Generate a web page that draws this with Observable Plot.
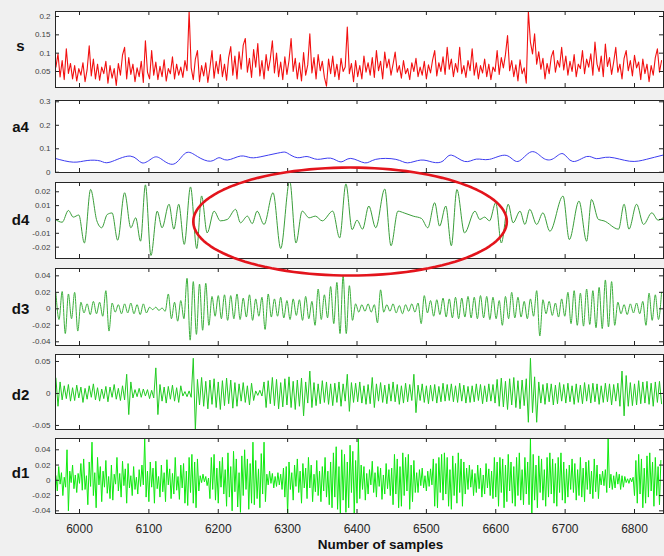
<!DOCTYPE html>
<html><head><meta charset="utf-8">
<script src="https://cdn.jsdelivr.net/npm/d3@7"></script>
<script src="https://cdn.jsdelivr.net/npm/@observablehq/plot@0.6"></script>
<style>
html,body{margin:0;padding:0;background:#f0f0f0;}
#fig{position:relative;width:664px;height:556px;background:#f0f0f0;overflow:hidden;}
</style></head><body><div id="fig"></div>
<script>
// ---------- data (values in thousandths) ----------
const xTicks = [6000,6100,6200,6300,6400,6500,6600,6700,6800];
const xTickLabels = ["6000","6100","6200","6300","6400","6500","6600","6700","6800"];
const xLabel = "Number of samples";

const sTicks = [0.05,0.1,0.15,0.2];           const sTickLabels = ["0.05","0.1","0.15","0.2"];
const a4Ticks = [0,0.1,0.2,0.3];              const a4TickLabels = ["0","0.1","0.2","0.3"];
const d4Ticks = [-0.02,-0.01,0,0.01,0.02];    const d4TickLabels = ["-0.02","-0.01","0","0.01","0.02"];
const d3Ticks = [-0.04,-0.02,0,0.02,0.04];    const d3TickLabels = ["-0.04","-0.02","0","0.02","0.04"];
const d2Ticks = [-0.05,0,0.05];               const d2TickLabels = ["-0.05","0","0.05"];
const d1Ticks = [-0.04,-0.02,0,0.02,0.04];    const d1TickLabels = ["-0.04","-0.02","0","0.02","0.04"];

// s : one value every 3 samples from 5966
const sStart = 5966, sStep = 3;
const sVals = [
62,98,35,80,28,112,45,72,30,66,24,58,40,74,22,55,120,38,84,30,
70,26,62,44,78,18,66,32,58,12,72,40,95,116,30,88,42,70,22,60,
36,78,20,134,48,30,107,40,76,28,64,36,82,24,58,44,90,30,70,40,
62,34,80,52,214,60,28,84,107,22,66,38,74,20,60,107,32,78,44,96,
36,70,26,88,118,40,92,30,104,56,122,140,48,86,34,110,62,126,38,80,
30,96,52,84,134,46,100,36,76,28,90,42,80,140,50,86,30,74,24,102,
40,68,153,46,88,30,96,52,78,34,10,84,44,92,36,70,28,86,50,62,
171,44,72,22,80,36,66,30,92,48,74,40,88,34,107,52,78,30,103,60,
84,40,70,103,48,66,32,80,44,58,28,74,50,86,36,62,40,78,30,68,
46,82,107,38,74,50,90,42,116,56,84,36,72,48,116,44,66,34,80,52,
112,40,74,30,66,46,84,36,70,28,62,50,107,42,88,60,96,148,52,80,
36,68,24,82,44,60,18,214,130,98,153,70,104,56,86,30,72,44,90,107,
48,80,62,116,54,92,40,78,50,96,36,70,58,107,44,84,62,98,40,130,
70,50,92,36,125,64,88,42,76,116,48,70,30,86,107,52,80,38,94,60,
76,28,84,44,70,22,66,40,88,112,48,80];

// a4 : smooth approximation, read at its turning points
const a4X = [5965,5991,6011,6030,6044,6073,6090,6105,6117,6136,6153,6170,6189,6201,6213,6232,6247,6266,6290,6300,6314,6328,6343,6362,6377,6391,6411,6427,6456,6473,6492,6509,6524,6536,6555,6572,6591,6615,6632,6651,6668,6683,6697,6711,6731,6745,6764,6793,6817,6841];
const a4Y = [59,43,50,48,43,69,40,60,58,35,82,67,47,62,52,69,62,69,84,81,62,67,55,60,44,59,40,55,55,40,52,43,48,73,46,56,55,72,46,87,61,58,79,46,67,58,64,47,55,73];

// d4 : read at peaks and troughs
const d4X = [5965,5975,5984,5991,5999,6007,6016,6025,6032,6040,6047,6055,6065,6074,6081,6088,6095,6103,6112,6119,6129,6136,6143,6151,6160,6169,6176,6184,6194,6203,6213,6225,6232,6242,6249,6256,6266,6279,6290,6303,6312,6321,6331,6340,6350,6365,6375,6384,6393,6400,6408,6417,6427,6440,6449,6459,6468,6481,6493,6502,6512,6519,6528,6536,6544,6555,6570,6577,6584,6591,6600,6608,6618,6625,6635,6642,6649,6659,6668,6678,6697,6706,6720,6731,6738,6748,6756,6777,6785,6792,6803,6813,6825,6834,6844];
const d4Y = [0,-2,6.5,1.7,3.2,-17,21.7,-1,-6,3.6,4.7,-15,19.3,-6,1.2,-15.7,25,-26,6,-6,11,-7,11,-18,23.5,-21,17,-9.7,6,-1,0,7.3,-2.4,2.4,-3,6,-3.6,19.3,-21,28,-17,6,1.2,2.4,-1,6,-13.3,25.7,-7.3,-0.5,-7,9.7,-6,22,-19,6,4.7,2.4,0.7,-6,12.1,-4.8,9.7,-19,21.6,-9.7,6,0,1.7,-1,12.1,-17,11,-2.4,6,-3.6,7.3,-3.6,4.8,-8.5,16.9,-14.5,13.3,-15.7,14.5,0,-1,-7,11,-7,11,-3.6,4.8,-0.5,2.4];

// d3 : alternating extremes every 4.5 samples from 5966
const d3Start = 5966, d3Step = 4.5;
const d3Vals = [
19,-13,21,-30,18,-12,20,-27,8,-5, 6,-7,9,-6,8,-9,22,-27,7,-4,
5,-6,6,-5,7,-6,5,-7,6,-5, 2,-1,2,-2,1,-3,18,-12,8,-15,
10,-12,37,-38,33,-31,30,-26,31,-20, 15,-9,16,-12,17,-14,16,-12,18,-13,
13,-10,17,-14,12,-9,14,-25,18,-10, 12,-9,14,-11,10,-13,12,-8,11,-14,
15,-12,9,-20,24,-13,17,-11,27,-18, 32,-30,40,-30,28,-14,6,-4,5,-3,
6,-4,5,-17,23,-4,5,-3,6,-5, 4,-6,5,-3,6,-4,7,-18,16,-5,
10,-9,11,-7,13,-10,12,-11,14,-12, 13,-10,15,-11,14,-12,16,-11,15,-13,
14,-12,10,-20,15,-12,20,-11,14,-10, 9,-12,12,-9,22,-33,11,-6,9,-8,
7,-10,12,-9,20,-18,22,-20,19,-21, 24,-19,22,-23,26,-24,35,-22,33,-20,
8,-6,5,-7,6,-5,7,-6,9,-20, 19,-14,17,-13,20];

// d2 : every 3 samples from 5966
const d2Start = 5966, d2Step = 3;
const d2Vals = [
24,-20,18,-10,12,-8,14,-12,9,-11,13,-7,10,-14,8,-9,12,-6,15,-10,
9,-12,7,-8,11,-13,10,-6,14,-9,8,-11,12,-10,30,-33,18,-7,6,-5,
8,-6,7,-4,6,-8,5,-7,40,-33,14,-12,10,-15,11,-9,13,-12,9,-14,
12,-4,3,-5,4,-6,55,-57,22,-18,25,-20,19,-24,21,-17,23,-22,18,-25,
20,-19,24,-16,21,-23,17,-20,15,-12,17,-14,12,-18,16,-11,4,-3,5,-4,
18,-22,20,-16,25,-19,22,-24,17,-21,23,-18,26,-22,19,-25,21,-20,24,-35,
18,-15,35,-22,17,-19,15,-16,20,-14,18,-17,15,-19,16,-14,18,-20,15,-12,
30,-28,17,-14,16,-13,18,-15,12,-17,14,-16,25,-22,15,-12,17,-14,13,-16,
15,-12,18,-13,14,-17,12,-15,16,-13,14,-11,30,-30,13,-11,15,-14,12,-16,
13,-12,14,-15,11,-13,16,-12,14,-11,15,-13,12,-14,16,-12,13,-15,11,-14,
12,-13,15,-11,14,-16,12,-13,15,-12,14,-15,22,-20,24,-21,19,-25,23,-18,
25,-22,20,-24,21,-19,23,-45,55,-30,26,-45,18,-15,14,-17,16,-13,15,-18,
13,-16,17,-12,14,-15,16,-13,12,-17,15,-14,13,-16,17,-12,14,-15,16,-13,
15,-17,12,-14,16,-13,15,-18,14,-12,16,-20,35,-35,28,-20,17,-19,15,-18,
20,-16,18,-15,19,-17,16,-20,18,-14,19,-16];

// d1 : every 2 samples from 5966
const d1Start = 5966, d1Step = 2;
const d1Vals = [
6,-14,18,-5,10,-20,4,-9,40,-40,12,-3,20,-11,7,-16,9,-4,22,-13,
28,-12,6,-32,24,-8,50,-20,10,-36,30,-6,18,-28,12,-9,26,-17,5,-24,
20,-26,8,-5,30,-14,9,-22,25,-7,15,-30,22,-10,6,-20,18,-12,4,-18,
14,-8,20,-6,55,-22,12,-28,24,-9,16,-30,25,-11,5,-22,20,-15,10,-28,
27,-6,15,-24,9,-18,30,-13,5,-25,20,-10,22,-30,12,-33,30,-16,34,-30,
24,-36,28,-14,6,-3,8,-2,5,-7,3,-24,30,-12,34,-26,16,-30,25,-9,
30,-18,14,-34,36,-22,18,-40,38,-15,28,-35,10,-42,32,-20,40,-12,28,-38,
22,-30,50,-32,26,-24,15,-36,35,-18,50,-28,8,-6,12,-4,9,-10,5,-8,
10,-6,8,-12,16,-22,18,-45,24,-12,10,-26,20,-8,28,-16,12,-30,22,-10,
16,-24,30,-10,20,-28,8,-15,26,-20,12,-28,18,-14,30,-22,12,-32,24,-36,
36,-22,44,-38,18,-46,40,-26,34,-42,24,-36,46,-16,38,-44,26,-30,55,-24,
20,-12,18,-26,9,-18,14,-6,25,-16,10,-22,18,-8,16,-25,7,-18,22,-11,
14,-20,16,-32,34,-18,28,-36,18,-34,36,-20,30,-14,34,-38,20,-28,26,-16,
10,-16,14,-7,16,-10,6,-14,12,-8,15,-6,28,-34,22,-36,30,-16,34,-26,
36,-18,30,-34,14,-38,32,-20,22,-30,36,-16,28,-34,24,-18,16,-12,20,-9,
14,-20,9,-16,20,-11,16,-22,7,-18,22,-10,15,-20,12,-24,30,-22,24,-34,
30,-16,28,-36,20,-28,34,-14,24,-30,18,-34,30,-20,36,-26,14,-32,30,-18,
24,-32,55,-50,34,-26,20,-36,32,-16,28,-26,14,-34,30,-22,36,-18,28,-30,
22,-34,30,-16,36,-26,24,-30,15,-22,20,-12,28,-16,22,-26,14,-20,30,-22,
16,-28,24,-12,26,-18,12,-24,28,-15,20,-24,8,-6,12,-7,14,-16,55,-10,
8,-12,6,-10,11,-5,8,-12,6,-9,5,-3,2,-4,3,-2,4,-20,26,-30,
34,-18,28,-36,16,-30,32,-22,36,-14,24,-34,30,-20,18,-32,26];

// annotation ellipse (in d4 units): centre sample, centre value, half-width (samples), half-height
const ellipseCx = 6390, ellipseCy = -0.0015, ellipseRx = 226, ellipseRy = 0.039;

// ---------- layout ----------
const W = 664, H = 556, ML = 55, MR = 1;
const xDomain = [5965.4, 6841.8];
const FONT = "'Liberation Sans', Arial, sans-serif";

const uniform = (vals, start, step) => vals.map((v, i) => ({x: start + step * i, y: v / 1000}));
const paired = (xs, ys) => xs.map((x, i) => ({x, y: ys[i] / 1000}));

const panels = [
  {name: "s",  data: uniform(sVals, sStart, sStep), color: "#f21010", width: 1.1, curve: "linear", top: 11, bottom: 87, domain: [0.0064, 0.2136], ticks: sTicks, labels: sTickLabels, labelDy: -3},
  {name: "a4", data: paired(a4X, a4Y), color: "#3d3df0", width: 1, curve: "natural", top: 100, bottom: 172, domain: [-0.001, 0.3055], ticks: a4Ticks, labels: a4TickLabels, labelDy: -9},
  {name: "d4", data: paired(d4X, d4Y), color: "#3a9e3a", width: 1, curve: "monotone-x", top: 182, bottom: 258, domain: [-0.0282, 0.0267], ticks: d4Ticks, labels: d4TickLabels, labelDy: 0},
  {name: "d3", data: uniform(d3Vals, d3Start, d3Step), color: "#3cb03c", width: 1, curve: "monotone-x", top: 268, bottom: 345, domain: [-0.0445, 0.0489], ticks: d3Ticks, labels: d3TickLabels, labelDy: 2},
  {name: "d2", data: uniform(d2Vals, d2Start, d2Step), color: "#22cc22", width: 1, curve: "linear", top: 354, bottom: 429, domain: [-0.0563, 0.0609], ticks: d2Ticks, labels: d2TickLabels, labelDy: 3},
  {name: "d1", data: uniform(d1Vals, d1Start, d1Step), color: "#10ea10", width: 1, curve: "linear", top: 438, bottom: 513, domain: [-0.0435, 0.0548], ticks: d1Ticks, labels: d1TickLabels, labelDy: -3}
];

const fig = document.getElementById("fig");
const innerW = W - ML - MR;

panels.forEach((p, k) => {
  const h = p.bottom - p.top;
  const last = k === panels.length - 1;
  const marks = [
    Plot.frame({fill: "white"}),
    Plot.line(p.data, {x: "x", y: "y", stroke: p.color, strokeWidth: p.width, curve: p.curve, clip: true}),
    Plot.tickX(xTicks, {x: d => d, insetBottom: h - 4, stroke: "#262626"}),
    Plot.tickX(xTicks, {x: d => d, insetTop: h - 4, stroke: "#262626"}),
    Plot.tickY(p.ticks, {y: d => d, insetRight: innerW - 4, stroke: "#262626"}),
    Plot.tickY(p.ticks, {y: d => d, insetLeft: innerW - 4, stroke: "#262626"}),
    Plot.axisY(p.ticks, {anchor: "left", tickSize: 0, tickPadding: 5, fontSize: 8, fill: "#404040",
      tickFormat: d => p.labels[p.ticks.indexOf(d)], label: null}),
    Plot.frame({stroke: "#262626", strokeWidth: 1}),
    Plot.text([p.name], {text: d => d, frameAnchor: "left", dx: -35, dy: p.labelDy, textAnchor: "middle",
      fontSize: 15, fontWeight: "bold", fill: "#111"})
  ];
  if (last) {
    marks.push(Plot.axisX(xTicks, {anchor: "bottom", tickSize: 0, tickPadding: 11, fontSize: 12, fill: "#262626",
      tickFormat: d => xTickLabels[xTicks.indexOf(d)], label: null}));
    marks.push(Plot.text([xLabel], {text: d => d, frameAnchor: "bottom", dx: 21, dy: 35, textAnchor: "middle",
      fontSize: 13.5, fontWeight: "bold", fill: "#111"}));
  }
  const svg = Plot.plot({
    width: W, height: H,
    marginLeft: ML, marginRight: MR, marginTop: p.top, marginBottom: H - p.bottom,
    x: {domain: xDomain, axis: last ? undefined : null},
    y: {domain: p.domain},
    style: {background: "transparent", position: "absolute", left: "0px", top: "0px", fontFamily: FONT, overflow: "visible"},
    marks
  });
  fig.appendChild(svg);
});

// overlay: red ellipse annotation drawn in d4 coordinates
const d4p = panels[2];
const ellipsePts = d3.range(0, 121).map(i => {
  const t = (i / 120) * 2 * Math.PI;
  return {x: ellipseCx + ellipseRx * Math.cos(t), y: ellipseCy + ellipseRy * Math.sin(t)};
});
const overlay = Plot.plot({
  width: W, height: H,
  marginLeft: ML, marginRight: MR, marginTop: d4p.top, marginBottom: H - d4p.bottom,
  x: {domain: xDomain, axis: null},
  y: {domain: d4p.domain, axis: null},
  style: {background: "transparent", position: "absolute", left: "0px", top: "0px", overflow: "visible"},
  marks: [Plot.line(ellipsePts, {x: "x", y: "y", stroke: "#e3141c", strokeWidth: 2.6, curve: "linear-closed"})]
});
fig.appendChild(overlay);
</script></body></html>
